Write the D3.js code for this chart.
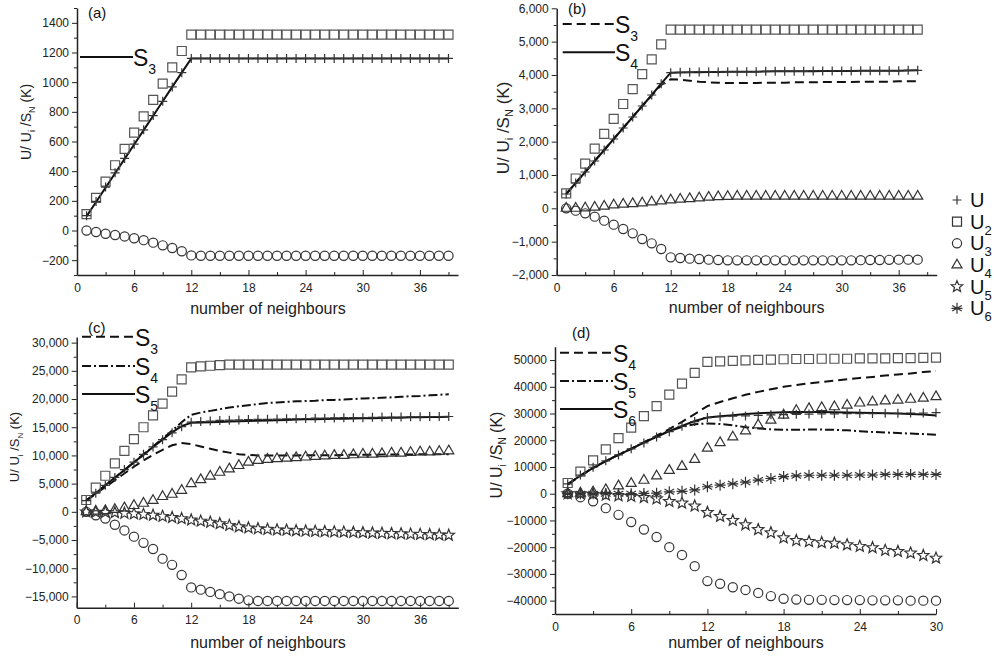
<!DOCTYPE html>
<html>
<head>
<meta charset="utf-8">
<script src="https://cdn.jsdelivr.net/npm/d3@7"></script>
<style>
  body { margin: 0; background: #fff; }
  svg { display: block; font-family: "Liberation Sans", Arial, sans-serif; }
  .tick text { font-size: 12px; fill: #222; }
  .domain, .tick line { stroke: #222; }
</style>
</head>
<body>
<div id="chart"></div>
<script>
// neighbour counts for each panel
var nA = d3.range(1, 40);
var nB = d3.range(1, 39);
var nC = d3.range(1, 40);
var nD = d3.range(1, 31);

// panel (a)
var aU  = [100,196,293,389,486,582,679,775,871,968,1064,1160,1160,1160,1160,1160,1160,1160,1160,1160,1160,1160,1160,1160,1160,1160,1160,1160,1160,1160,1160,1160,1160,1160,1160,1160,1160,1160,1160];
var aU2 = [110,220,330,440,550,660,770,880,990,1100,1210,1320,1320,1320,1320,1320,1320,1320,1320,1320,1320,1320,1320,1320,1320,1320,1320,1320,1320,1320,1320,1320,1320,1320,1320,1320,1320,1320,1320];
var aU3 = [0,-10,-22,-30,-40,-52,-65,-82,-100,-118,-140,-168,-170,-170,-170,-170,-170,-170,-170,-170,-170,-170,-170,-170,-170,-170,-170,-170,-170,-170,-170,-170,-170,-170,-170,-170,-170,-170,-170];
var aS3 = [95,192,289,386,483,580,677,774,871,968,1064,1160,1160,1160,1160,1160,1160,1160,1160,1160,1160,1160,1160,1160,1160,1160,1160,1160,1160,1160,1160,1160,1160,1160,1160,1160,1160,1160,1160];

// panel (b)
var bU  = [430,760,1090,1420,1750,2080,2410,2740,3070,3400,3740,4070,4080,4080,4090,4090,4090,4100,4100,4100,4100,4110,4110,4110,4110,4110,4120,4120,4120,4120,4120,4130,4130,4130,4130,4130,4140,4140];
var bU2 = [447,894,1341,1788,2235,2682,3129,3576,4023,4470,4917,5360,5360,5360,5360,5360,5360,5360,5360,5360,5360,5360,5360,5360,5360,5360,5360,5360,5360,5360,5360,5360,5360,5360,5360,5360,5360,5360];
var bU3 = [0,-70,-150,-250,-370,-490,-620,-750,-920,-1050,-1220,-1470,-1490,-1510,-1520,-1540,-1550,-1560,-1560,-1560,-1560,-1560,-1560,-1560,-1560,-1560,-1560,-1560,-1560,-1560,-1560,-1555,-1550,-1550,-1545,-1540,-1540,-1540];
var bU4 = [0,0,10,30,60,100,120,140,160,190,220,250,270,290,310,330,345,355,360,360,360,360,360,360,360,360,360,360,360,360,360,360,360,360,360,360,360,360];
var bS3 = [430,760,1090,1420,1750,2080,2410,2740,3070,3380,3700,3870,3860,3830,3800,3780,3770,3760,3760,3760,3760,3770,3770,3770,3780,3780,3780,3790,3790,3790,3790,3800,3800,3800,3800,3810,3810,3810];
var bS4 = [430,760,1090,1420,1750,2080,2410,2740,3070,3400,3740,4070,4075,4080,4085,4090,4090,4095,4100,4100,4100,4105,4110,4110,4110,4110,4115,4120,4120,4120,4120,4125,4130,4130,4130,4130,4135,4140];

// panel (c)
var cU  = [2000,3300,4700,6100,7500,8800,10200,11500,12800,14000,15100,15900,16000,16100,16200,16250,16300,16350,16400,16400,16450,16500,16500,16550,16600,16600,16650,16700,16700,16700,16750,16800,16800,16800,16850,16850,16900,16900,16900];
var cU2 = [2100,4300,6400,8600,10800,12900,15000,17100,19200,21300,23500,25600,25800,25900,26000,26100,26100,26100,26100,26100,26100,26100,26100,26100,26100,26100,26100,26100,26100,26100,26100,26100,26100,26100,26100,26100,26100,26100,26100];
var cU3 = [0,-600,-1200,-2300,-3300,-4400,-5500,-6600,-8300,-9400,-11200,-13400,-13800,-14200,-14600,-15000,-15400,-15700,-15800,-15800,-15800,-15800,-15800,-15800,-15800,-15800,-15800,-15800,-15800,-15800,-15800,-15800,-15800,-15800,-15800,-15800,-15800,-15800,-15800];
var cU4 = [0,100,200,400,700,1100,1500,2000,2700,3100,3800,5000,5700,6300,7000,7600,8200,8800,9100,9300,9400,9500,9600,9700,9800,9900,10000,10000,10100,10200,10200,10300,10400,10400,10500,10600,10600,10700,10800];
var cU5 = [0,-50,-100,-150,-250,-350,-450,-600,-800,-1000,-1200,-1450,-1650,-1850,-2100,-2400,-2650,-2850,-3000,-3100,-3200,-3250,-3350,-3400,-3450,-3500,-3550,-3600,-3650,-3700,-3750,-3800,-3850,-3900,-3950,-4000,-4050,-4100,-4150];
var cS3 = [2000,3200,4400,5600,6800,8000,9100,10100,11000,11800,12200,12000,11600,11200,10800,10500,10200,10100,10000,10000,10000,10000,10000,10050,10050,10050,10050,10100,10100,10100,10100,10150,10150,10150,10150,10200,10200,10200,10200];
var cS4 = [2000,3300,4700,6000,7400,8800,10200,11600,13000,14400,15900,17200,17600,17900,18200,18500,18700,18900,19100,19300,19400,19500,19600,19650,19700,19800,19850,19900,20000,20100,20150,20250,20300,20400,20500,20550,20650,20750,20850];
var cS5 = [2000,3300,4700,6100,7400,8800,10100,11500,12800,14100,15200,15800,15850,15900,15950,16000,16050,16100,16150,16200,16250,16300,16350,16400,16400,16450,16500,16500,16550,16600,16600,16650,16700,16700,16750,16750,16800,16800,16850];

// panel (d)
var dU  = [3700,7000,9900,12300,14500,16800,19000,21200,23200,25200,27000,28500,28800,29000,29100,29300,29500,29600,29700,29800,29900,29900,30000,30000,30000,30100,30100,30200,30200,30300];
var dU2 = [4000,8300,12500,16600,20800,24700,29000,32800,37100,41200,45200,49300,49500,49700,49900,50100,50200,50300,50400,50400,50500,50500,50500,50600,50600,50600,50700,50700,50800,50900];
var dU3 = [0,-1300,-2800,-5400,-7900,-10600,-13400,-16200,-20000,-22900,-27100,-32700,-33700,-35000,-36000,-37100,-38300,-39300,-39600,-39700,-39700,-39800,-39800,-39800,-39900,-39900,-39900,-40000,-40000,-40000];
var dU4 = [0,200,600,1500,2900,3800,5000,6600,8700,10200,12800,17000,19100,21200,23500,25700,27500,29400,31100,31800,32200,32500,33100,33900,34300,34700,35000,35300,35700,36300];
var dU5 = [0,0,-200,-500,-800,-1000,-1400,-1900,-2900,-3500,-4600,-7000,-8500,-10000,-11600,-13400,-14600,-16500,-17500,-17900,-18300,-18500,-19100,-19700,-20200,-21200,-21600,-22200,-23100,-24100];
var dU6 = [0,0,0,0,0,0,100,200,700,900,1400,2600,3200,3700,4300,5100,5700,6400,6700,6900,6900,6900,6900,7000,7000,7200,7200,7200,7200,7200];
var dS4 = [3500,6700,9600,12200,14500,16800,19200,21700,24200,26900,29800,32800,34300,35700,37000,38100,39100,40000,40700,41300,41800,42300,42800,43300,43700,44200,44600,45000,45500,45900];
var dS5 = [3500,6800,9700,12200,14600,16900,19200,21400,23400,25000,26000,26300,26100,25600,24900,24400,24100,23900,23900,24000,24000,23900,23700,23400,23100,22900,22700,22500,22300,22100];
var dS6 = [3500,6800,9700,12200,14500,16800,19100,21300,23400,25400,27200,28500,29000,29400,29800,30100,30300,30500,30600,30600,30600,30500,30400,30300,30200,30100,30000,29800,29600,29300];

// axis ticks
var xTicks40 = [0,6,12,18,24,30,36];
var xTicks30 = [0,6,12,18,24,30];
var yTicksA = [-200,0,200,400,600,800,1000,1200,1400];
var yTicksB = [-2000,-1000,0,1000,2000,3000,4000,5000,6000];
var yTicksC = [-15000,-10000,-5000,0,5000,10000,15000,20000,25000,30000];
var yTicksD = [-40000,-30000,-20000,-10000,0,10000,20000,30000,40000,50000];

var legendNames = [["U",""],["U","2"],["U","3"],["U","4"],["U","5"],["U","6"]];

var svg = d3.select('#chart').append('svg')
	.attr('width', 994).attr('height', 661);
svg.append('rect').attr('width', 994).attr('height', 661).attr('fill', '#fff');

// marker paths, centred on 0,0
var markerPath = {
	plus: "M-4.5,0H4.5M0,-4.5V4.5",
	square: "M-4.5,-4.5H4.5V4.5H-4.5Z",
	circle: "M4.6,0A4.6,4.6 0 1,1 -4.6,0A4.6,4.6 0 1,1 4.6,0Z",
	triangle: "M0,-5.8L5,2.9L-5,2.9Z",
	star: (function(){
		var p = [];
		for (var i = 0; i < 10; i++) {
			var r = i % 2 ? 2.6 : 6, a = -Math.PI/2 + i*Math.PI/5;
			p.push((i ? "L" : "M") + (r*Math.cos(a)).toFixed(2) + "," + (r*Math.sin(a)).toFixed(2));
		}
		return p.join("") + "Z";
	})(),
	asterisk: "M0,-5.5V5.5M-4.8,-2.75L4.8,2.75M-4.8,2.75L4.8,-2.75M-5.5,0H5.5"
};
var markerColor = {plus:"#333", square:"#555", circle:"#333", triangle:"#333", star:"#333", asterisk:"#333"};

var subText = function(g, x, y, main, sub, size, subSize, subDy){
	var t = g.append('text').attr('x', x).attr('y', y)
		.attr('font-size', size).attr('fill', '#111');
	t.append('tspan').text(main);
	if (sub) {
		t.append('tspan').attr('font-size', subSize).attr('dy', subDy).text(sub);
	}
	return t;
};

var drawPanel = function(p){
	var g = svg.append('g');
	var x = d3.scaleLinear().domain(p.xDom).range([p.left, p.right]);
	var y = d3.scaleLinear().domain(p.yDom).range([p.bottom, p.top]);

	// y axis, ticks outward
	g.append('g').attr('transform', 'translate(' + p.left + ',0)')
		.call(d3.axisLeft(y).tickValues(p.yMinor).tickSize(3).tickFormat('').tickSizeOuter(0))
		.call(function(s){ s.select('.domain').remove(); });
	g.append('g').attr('transform', 'translate(' + p.left + ',0)')
		.call(d3.axisLeft(y).tickValues(p.yTicks).tickSize(5).tickPadding(3).tickSizeOuter(0).tickFormat(p.fmt))
		.call(function(s){ s.select('.domain').attr('stroke-width', 1.5); });

	// x axis, ticks inward
	g.append('g').attr('transform', 'translate(0,' + p.bottom + ')')
		.call(d3.axisBottom(x).tickValues(p.xMinor).tickSize(-3).tickFormat('').tickSizeOuter(0))
		.call(function(s){ s.select('.domain').remove(); });
	g.append('g').attr('transform', 'translate(0,' + p.bottom + ')')
		.call(d3.axisBottom(x).tickValues(p.xTicks).tickSize(-5).tickPadding(8).tickSizeOuter(0))
		.call(function(s){ s.select('.domain').attr('stroke-width', 1.5); });

	// S lines
	p.lines.forEach(function(l){
		var line = d3.line().x(function(d, i){ return x(p.n[i]); }).y(function(d){ return y(d); });
		g.append('path').datum(l.data).attr('d', line)
			.attr('fill', 'none').attr('stroke', '#111').attr('stroke-width', 2)
			.attr('stroke-dasharray', l.dash || null);
	});

	// marker series
	p.series.forEach(function(s){
		g.append('g').selectAll('path').data(s.data).enter().append('path')
			.attr('d', markerPath[s.marker])
			.attr('transform', function(d, i){ return 'translate(' + x(p.n[i]) + ',' + y(d) + ')'; })
			.attr('fill', 'none').attr('stroke', markerColor[s.marker]).attr('stroke-width', 1.2);
	});

	// S legend
	p.legend.forEach(function(l){
		g.append('line').attr('x1', p.legX[0]).attr('x2', p.legX[1]).attr('y1', l.y).attr('y2', l.y)
			.attr('stroke', '#111').attr('stroke-width', 2).attr('stroke-dasharray', l.dash || null);
		subText(g, p.legX[1], l.y + 9, 'S', l.sub, 23, 14, 8);
	});

	// panel tag
	g.append('text').attr('x', p.tag[1]).attr('y', p.tag[2]).attr('font-size', 15).attr('fill', '#111').text(p.tag[0]);

	// axis titles
	g.append('text').attr('x', p.xLab[0]).attr('y', p.xLab[1]).attr('text-anchor', 'middle')
		.attr('font-size', 16).attr('fill', '#222').text('number of neighbours');

	var yl = g.append('text').attr('font-size', p.yLab[2]).attr('fill', '#222')
		.attr('text-anchor', 'middle')
		.attr('transform', 'translate(' + p.yLab[0] + ',' + p.yLab[1] + ') rotate(-90)');
	var sub = Math.round(p.yLab[2] * 0.65);
	yl.append('tspan').text('U/ U');
	yl.append('tspan').attr('font-size', sub).attr('dy', 4).text('i');
	yl.append('tspan').attr('dy', -4).text(' /S');
	yl.append('tspan').attr('font-size', sub).attr('dy', 4).text('N');
	yl.append('tspan').attr('dy', -4).text(' (K)');
};

var fmtPlain = d3.format('d');
var fmtComma = d3.format(',');

drawPanel({
	n: nA, left: 77, right: 458, top: 8, bottom: 275,
	xDom: [0, 40], yDom: [-300, 1500],
	xTicks: xTicks40, xMinor: [3,9,15,21,27,33,39],
	yTicks: yTicksA, yMinor: [-300,-100,100,300,500,700,900,1100,1300,1500], fmt: fmtPlain,
	lines: [{data: aS3}],
	series: [{data: aU3, marker: 'circle'}, {data: aU2, marker: 'square'}, {data: aU, marker: 'plus'}],
	legend: [{y: 57, sub: '3'}], legX: [80, 133],
	tag: ['(a)', 88, 18], xLab: [268, 314], yLab: [31, 122, 14]
});

drawPanel({
	n: nB, left: 556.7, right: 936.7, top: 8.3, bottom: 275,
	xDom: [0, 40], yDom: [-2000, 6000],
	xTicks: xTicks40, xMinor: [3,9,15,21,27,33,39],
	yTicks: yTicksB, yMinor: [-1500,-500,500,1500,2500,3500,4500,5500], fmt: fmtComma,
	lines: [{data: bS3, dash: '9,5'}, {data: bS4}],
	series: [{data: bU3, marker: 'circle'}, {data: bU4, marker: 'triangle'}, {data: bU2, marker: 'square'}, {data: bU, marker: 'plus'}],
	legend: [{y: 24, sub: '3', dash: '9,5'}, {y: 52.3, sub: '4'}], legX: [562.7, 615],
	tag: ['(b)', 568, 14], xLab: [746.7, 313], yLab: [509, 128, 17]
});

drawPanel({
	n: nC, left: 76.7, right: 458.3, top: 337, bottom: 607.7,
	xDom: [0, 40], yDom: [-17000, 31000],
	xTicks: xTicks40, xMinor: [3,9,15,21,27,33,39],
	yTicks: yTicksC, yMinor: [-12500,-7500,-2500,2500,7500,12500,17500,22500,27500], fmt: fmtComma,
	lines: [{data: cS3, dash: '9,5'}, {data: cS4, dash: '9,3,2,3'}, {data: cS5}],
	series: [{data: cU3, marker: 'circle'}, {data: cU5, marker: 'star'}, {data: cU4, marker: 'triangle'}, {data: cU2, marker: 'square'}, {data: cU, marker: 'plus'}],
	legend: [{y: 336.7, sub: '3', dash: '9,5'}, {y: 366, sub: '4', dash: '9,3,2,3'}, {y: 394, sub: '5'}], legX: [82, 135],
	tag: ['(c)', 88, 333], xLab: [268, 648], yLab: [19, 447, 13]
});

drawPanel({
	n: nD, left: 555, right: 936, top: 346.7, bottom: 614,
	xDom: [0, 30], yDom: [-45000, 55000],
	xTicks: xTicks30, xMinor: [3,9,15,21,27],
	yTicks: yTicksD, yMinor: [-45000,-35000,-25000,-15000,-5000,5000,15000,25000,35000,45000], fmt: fmtPlain,
	lines: [{data: dS4, dash: '9,5'}, {data: dS5, dash: '9,3,2,3'}, {data: dS6}],
	series: [{data: dU3, marker: 'circle'}, {data: dU5, marker: 'star'}, {data: dU6, marker: 'asterisk'}, {data: dU4, marker: 'triangle'}, {data: dU2, marker: 'square'}, {data: dU, marker: 'plus'}],
	legend: [{y: 352.7, sub: '4', dash: '9,5'}, {y: 381, sub: '5', dash: '9,3,2,3'}, {y: 409, sub: '6'}], legX: [560, 613],
	tag: ['(d)', 572, 338], xLab: [746, 648], yLab: [502, 455, 16]
});

// shared marker legend on the right
var legMarkers = ['plus', 'square', 'circle', 'triangle', 'star', 'asterisk'];
var legY = d3.scalePoint().domain(legMarkers).range([200, 308.3]);
var leg = svg.append('g');
legMarkers.forEach(function(m, i){
	leg.append('path').attr('d', markerPath[m])
		.attr('transform', 'translate(957,' + legY(m) + ')')
		.attr('fill', 'none').attr('stroke', '#333').attr('stroke-width', 1.2);
	subText(leg, 970, legY(m) + 7, legendNames[i][0], legendNames[i][1], 20, 13, 6);
});
</script>
</body>
</html>
